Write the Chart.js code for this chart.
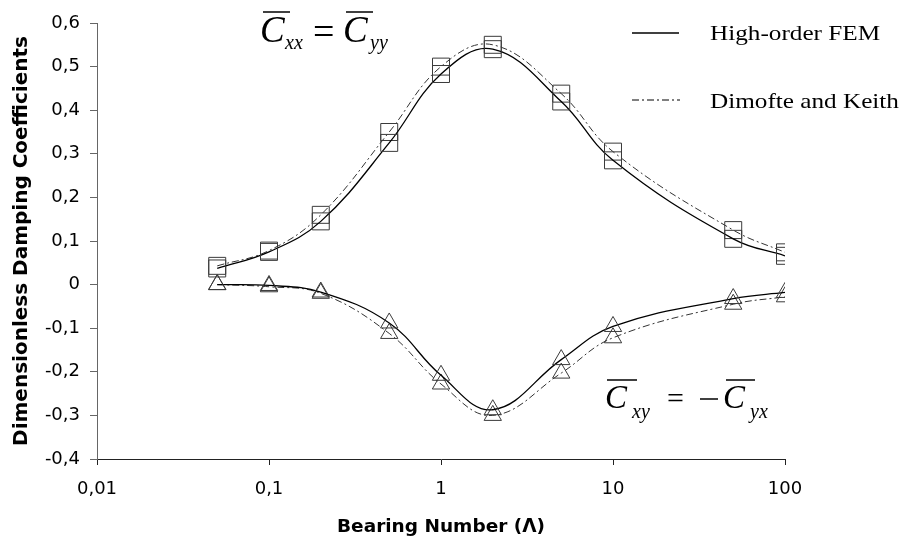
<!DOCTYPE html>
<html>
<head>
<meta charset="utf-8">
<script src="https://cdn.jsdelivr.net/npm/chart.js@4.4.1/dist/chart.umd.min.js"></script>
<style>
  body { margin: 0; background: #fff; }
  #dampingChart { display: block; }
</style>
</head>
<body>
<canvas id="dampingChart" width="915" height="540"></canvas>
<script>
// bearing numbers (log axis)
var bearingNumbers = [0.05, 0.1, 0.2, 0.5, 1, 2, 5, 10, 50, 100];

// Cxx = Cyy
var cxxFem = [0.037, 0.075, 0.145, 0.325, 0.483, 0.540, 0.420, 0.285, 0.105, 0.066];
var cxxDimofte = [0.043, 0.078, 0.160, 0.350, 0.500, 0.550, 0.438, 0.305, 0.125, 0.074];

// Cxy = -Cyx
var cxyFem = [0.000, -0.002, -0.017, -0.088, -0.208, -0.287, -0.172, -0.096, -0.032, -0.018];
var cxyDimofte = [0.000, -0.005, -0.020, -0.112, -0.228, -0.300, -0.203, -0.122, -0.045, -0.028];

var xTickValues = [0.01, 0.1, 1, 10, 100];
var yMin = -0.4, yMax = 0.6;

function toPoints(ys) {
    return bearingNumbers.map(function (x, i) { return { x: x, y: ys[i] }; });
}

var dashDot = [7, 3, 2, 3];

function series(label, ys, style, radius, dashed) {
    return {
        label: label,
        data: toPoints(ys),
        borderColor: dashed ? "#333" : "#000",
        borderWidth: dashed ? 1 : 1.3,
        borderDash: dashed ? dashDot : [],
        tension: 0.4,
        fill: false,
        pointStyle: style,
        pointRadius: radius,
        pointBorderColor: "#3a3a3a",
        pointBackgroundColor: "rgba(0,0,0,0)",
        pointBorderWidth: 1
    };
}

// legend and formula labels drawn on top
var notes = {
    id: "notes",
    afterDraw: function (chart) {
        var ctx = chart.ctx;
        ctx.save();
        ctx.fillStyle = "#000";
        ctx.strokeStyle = "#000";

        // legend
        ctx.lineWidth = 1.3;
        ctx.beginPath();
        ctx.moveTo(632, 33); ctx.lineTo(679, 33);
        ctx.stroke();
        ctx.lineWidth = 1;
        ctx.setLineDash(dashDot);
        ctx.beginPath();
        ctx.moveTo(632, 100); ctx.lineTo(680, 100);
        ctx.stroke();
        ctx.setLineDash([]);

        function wideText(txt, x, y, font, sx) {
            ctx.save();
            ctx.font = font;
            ctx.textBaseline = "alphabetic";
            ctx.translate(x, y);
            ctx.scale(sx, 1);
            ctx.fillText(txt, 0, 0);
            ctx.restore();
        }
        wideText("High-order FEM", 710, 40, "21px 'Liberation Serif'", 1.2);
        wideText("Dimofte and Keith", 710, 108, "21px 'Liberation Serif'", 1.2);

        function bar(x1, x2, y) {
            ctx.lineWidth = 1.5;
            ctx.beginPath();
            ctx.moveTo(x1, y); ctx.lineTo(x2, y);
            ctx.stroke();
        }

        // Cxx = Cyy
        var big = "italic 37px 'Liberation Serif'";
        var sub = "italic 20px 'Liberation Serif'";
        wideText("C", 260, 42, big, 1);
        bar(263, 290, 12);
        wideText("xx", 285, 49, sub, 1);
        wideText("=", 313, 44, "38px 'Liberation Serif'", 1);
        wideText("C", 343, 42, big, 1);
        bar(346, 373, 12);
        wideText("yy", 370, 49, sub, 1);

        // Cxy = -Cyx
        var big2 = "italic 33px 'Liberation Serif'";
        wideText("C", 605, 408, big2, 1);
        bar(607, 637, 380);
        wideText("xy", 632, 418, sub, 1);
        wideText("=", 667, 408, "30px 'Liberation Serif'", 1);
        bar(700, 718, 399);
        wideText("C", 723, 408, big2, 1);
        bar(726, 755, 380);
        wideText("yx", 750, 418, sub, 1);

        ctx.restore();
    }
};

new Chart("dampingChart", {
    type: "line",
    data: {
        datasets: [
            series("High-order FEM", cxxFem, "rect", 12, false),
            series("Dimofte and Keith", cxxDimofte, "rect", 12, true),
            series("High-order FEM xy", cxyFem, "triangle", 10, false),
            series("Dimofte and Keith xy", cxyDimofte, "triangle", 10, true)
        ]
    },
    options: {
        responsive: false,
        animation: false,
        devicePixelRatio: 1,
        layout: {
            padding: { left: 0, right: 130, top: 23, bottom: 0 }
        },
        plugins: {
            legend: { display: false },
            tooltip: { enabled: false }
        },
        scales: {
            x: {
                type: "logarithmic",
                min: 0.01,
                max: 100,
                afterBuildTicks: function (scale) {
                    scale.ticks = xTickValues.map(function (v) { return { value: v }; });
                },
                afterFit: function (scale) { scale.height = 81; },
                ticks: {
                    autoSkip: false,
                    maxRotation: 0,
                    padding: 14,
                    color: "#000",
                    font: { family: "'DejaVu Sans'", size: 18 },
                    callback: function (v) { return String(v).replace(".", ","); }
                },
                grid: {
                    drawOnChartArea: false,
                    tickLength: 6,
                    color: "#222"
                },
                border: { color: "#222", width: 1 },
                title: {
                    display: true,
                    text: "Bearing Number (\u039b)",
                    color: "#000",
                    font: { family: "'DejaVu Sans'", size: 18.5, weight: "bold" },
                    padding: { top: 0, bottom: 2 }
                }
            },
            y: {
                min: yMin,
                max: yMax,
                afterFit: function (scale) { scale.width = 97; },
                ticks: {
                    stepSize: 0.1,
                    padding: 10,
                    color: "#000",
                    font: { family: "'DejaVu Sans'", size: 18 },
                    callback: function (v) {
                        if (Math.abs(v) < 1e-9) return "0";
                        return v.toFixed(1).replace(".", ",");
                    }
                },
                grid: {
                    drawOnChartArea: false,
                    tickLength: 7,
                    color: "#666"
                },
                border: { color: "#666", width: 1 },
                title: {
                    display: true,
                    text: "Dimensionless Damping Coefficients",
                    color: "#000",
                    font: { family: "'DejaVu Sans'", size: 20, weight: "bold" },
                    padding: { top: 10, bottom: 0 }
                }
            }
        }
    },
    plugins: [notes]
});
</script>
</body>
</html>
